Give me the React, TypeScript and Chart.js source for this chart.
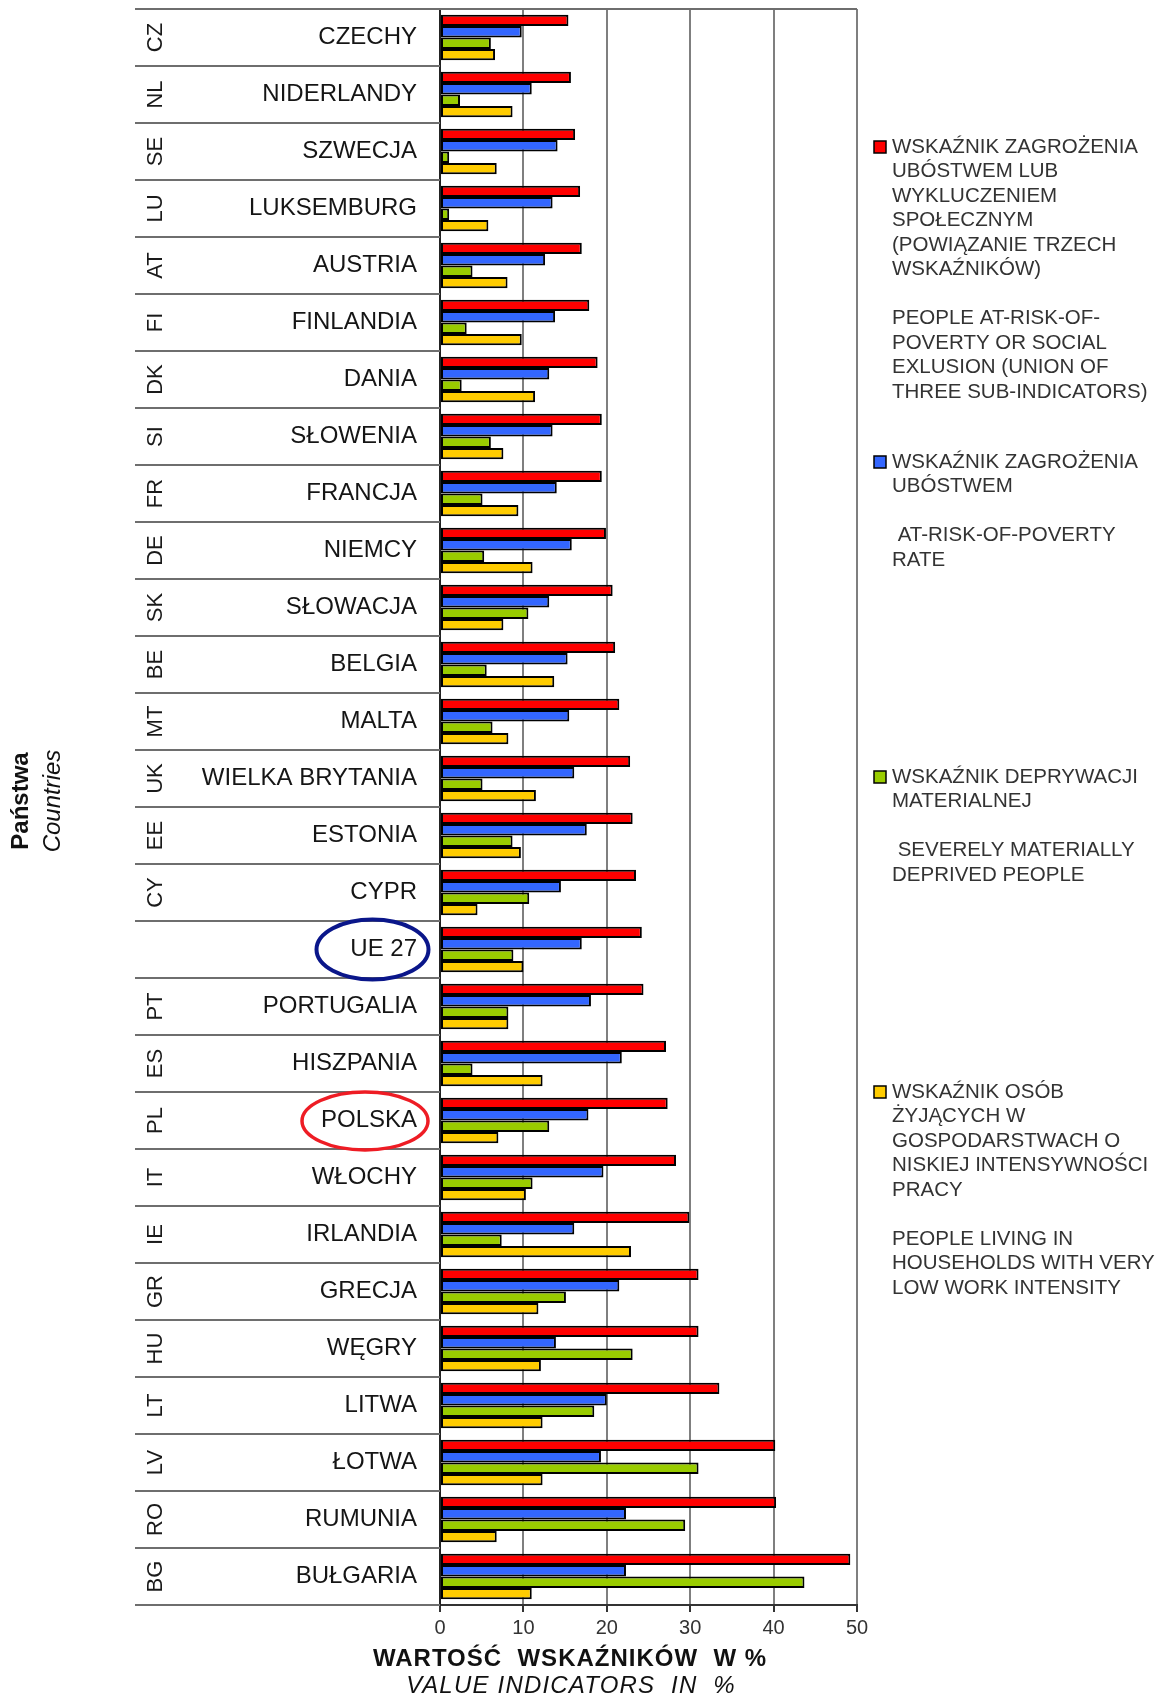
import React, { useEffect, useRef } from "react";
import { Chart, registerables } from "chart.js";

Chart.register(...registerables);

const countries = [
  "CZECHY", "NIDERLANDY", "SZWECJA", "LUKSEMBURG", "AUSTRIA", "FINLANDIA", "DANIA",
  "SŁOWENIA", "FRANCJA", "NIEMCY", "SŁOWACJA", "BELGIA", "MALTA", "WIELKA BRYTANIA",
  "ESTONIA", "CYPR", "UE 27", "PORTUGALIA", "HISZPANIA", "POLSKA", "WŁOCHY",
  "IRLANDIA", "GRECJA", "WĘGRY", "LITWA", "ŁOTWA", "RUMUNIA", "BUŁGARIA",
];
const codes = [
  "CZ", "NL", "SE", "LU", "AT", "FI", "DK", "SI", "FR", "DE", "SK", "BE", "MT", "UK",
  "EE", "CY", "", "PT", "ES", "PL", "IT", "IE", "GR", "HU", "LT", "LV", "RO", "BG",
];
const aropeValues = [
  15.4, 15.7, 16.2, 16.8, 17.0, 17.9, 18.9, 19.4, 19.4, 19.9, 20.7, 21.0, 21.5, 22.8,
  23.1, 23.5, 24.2, 24.4, 27.1, 27.3, 28.3, 29.9, 31.0, 31.0, 33.5, 40.2, 40.3, 49.2,
];
const povertyValues = [
  9.8, 11.0, 14.1, 13.5, 12.6, 13.8, 13.1, 13.5, 14.0, 15.8, 13.1, 15.3, 15.5, 16.1,
  17.6, 14.5, 17.0, 18.1, 21.8, 17.8, 19.6, 16.1, 21.5, 13.9, 20.0, 19.3, 22.3, 22.3,
];
const deprivationValues = [
  6.1, 2.4, 1.1, 1.1, 3.9, 3.2, 2.6, 6.1, 5.1, 5.3, 10.6, 5.6, 6.3, 5.1,
  8.7, 10.7, 8.8, 8.2, 3.9, 13.1, 11.1, 7.4, 15.1, 23.1, 18.5, 31.0, 29.4, 43.7,
];
const lowWorkValues = [
  6.6, 8.7, 6.8, 5.8, 8.1, 9.8, 11.4, 7.6, 9.4, 11.1, 7.6, 13.7, 8.2, 11.5,
  9.7, 4.5, 10.0, 8.2, 12.3, 7.0, 10.3, 22.9, 11.8, 12.1, 12.3, 12.3, 6.8, 11.0,
];
const xTicks = [0, 10, 20, 30, 40, 50];

const legendRed = [
  "WSKAŹNIK ZAGROŻENIA", "UBÓSTWEM LUB", "WYKLUCZENIEM", "SPOŁECZNYM",
  "(POWIĄZANIE TRZECH", "WSKAŹNIKÓW)", "", "PEOPLE AT-RISK-OF-", "POVERTY OR SOCIAL",
  "EXLUSION (UNION OF", "THREE SUB-INDICATORS)",
];
const legendBlue = ["WSKAŹNIK ZAGROŻENIA", "UBÓSTWEM", "", " AT-RISK-OF-POVERTY", "RATE"];
const legendGreen = ["WSKAŹNIK DEPRYWACJI", "MATERIALNEJ", "", " SEVERELY MATERIALLY", "DEPRIVED PEOPLE"];
const legendYellow = [
  "WSKAŹNIK OSÓB", "ŻYJĄCYCH W", "GOSPODARSTWACH O", "NISKIEJ INTENSYWNOŚCI", "PRACY",
  "", "PEOPLE LIVING IN", "HOUSEHOLDS WITH VERY", "LOW WORK INTENSITY",
];

const xTitle = "WARTOŚĆ  WSKAŹNIKÓW  W %";
const xSubtitle = "VALUE INDICATORS  IN  %";
const yTitle = "Państwa";
const ySubtitle = "Countries";

const FONT = '"Liberation Sans", Arial, sans-serif';
const COLORS = ["#FF0000", "#3366FF", "#99CC00", "#FFCC00"];

const decorPlugin = {
  id: "decor",
  afterDraw(chart: any) {
    const { ctx, chartArea } = chart;
    const y = chart.scales.y;
    const n = countries.length;
    const half = (y.getPixelForValue(1) - y.getPixelForValue(0)) / 2;
    const tableLeft = 135;
    ctx.save();

    // table row separators
    ctx.strokeStyle = "#6e6e6e";
    ctx.lineWidth = 2;
    for (let i = 0; i <= n; i++) {
      const yy = i < n ? y.getPixelForValue(i) - half : y.getPixelForValue(n - 1) + half;
      ctx.beginPath();
      ctx.moveTo(tableLeft, yy);
      ctx.lineTo(i === 0 ? chartArea.right : chartArea.left, yy);
      ctx.stroke();
    }

    // country codes (rotated)
    ctx.fillStyle = "#1a1a1a";
    ctx.font = `22px ${FONT}`;
    ctx.textAlign = "center";
    ctx.textBaseline = "middle";
    for (let i = 0; i < n; i++) {
      if (!codes[i]) continue;
      ctx.save();
      ctx.translate(155, y.getPixelForValue(i));
      ctx.rotate(-Math.PI / 2);
      ctx.fillText(codes[i], 0, 1);
      ctx.restore();
    }

    // ellipses around UE 27 and POLSKA
    const ueY = y.getPixelForValue(countries.indexOf("UE 27"));
    const plY = y.getPixelForValue(countries.indexOf("POLSKA"));
    ctx.lineWidth = 4;
    ctx.strokeStyle = "#0a168a";
    ctx.beginPath();
    ctx.ellipse(372.5, ueY, 56, 30, 0, 0, Math.PI * 2);
    ctx.stroke();
    ctx.lineWidth = 3.5;
    ctx.strokeStyle = "#ee1c24";
    ctx.beginPath();
    ctx.ellipse(365, plY + 0.5, 63, 29, 0, 0, Math.PI * 2);
    ctx.stroke();

    // y titles
    ctx.fillStyle = "#111";
    ctx.save();
    ctx.translate(21, 801);
    ctx.rotate(-Math.PI / 2);
    ctx.font = `bold 24px ${FONT}`;
    ctx.fillText(yTitle, 0, 0);
    ctx.restore();
    ctx.save();
    ctx.translate(53, 801);
    ctx.rotate(-Math.PI / 2);
    ctx.font = `italic 24px ${FONT}`;
    ctx.fillText(ySubtitle, 0, 0);
    ctx.restore();

    // x titles
    ctx.textAlign = "center";
    ctx.font = `bold 24px ${FONT}`;
    (ctx as any).letterSpacing = "1px";
    ctx.fillText(xTitle, 570, 1659);
    ctx.font = `italic 24px ${FONT}`;
    (ctx as any).letterSpacing = "1.2px";
    ctx.fillText(xSubtitle, 571, 1686);
    (ctx as any).letterSpacing = "0px";

    // legend
    const blocks = [legendRed, legendBlue, legendGreen, legendYellow];
    const lineH = 24.5;
    ctx.textAlign = "left";
    ctx.font = `20.5px ${FONT}`;
    blocks.forEach((lines, bi) => {
      const y0 = 147 + bi * 315;
      ctx.fillStyle = COLORS[bi];
      ctx.fillRect(874, y0 - 6, 12, 12);
      ctx.strokeStyle = "#000";
      ctx.lineWidth = 1.5;
      ctx.strokeRect(874, y0 - 6, 12, 12);
      ctx.fillStyle = "#333";
      lines.forEach((line, li) => {
        if (line) ctx.fillText(line, 892, y0 + li * lineH);
      });
    });

    ctx.restore();
  },
};

export default function App() {
  const canvasRef = useRef<HTMLCanvasElement | null>(null);

  useEffect(() => {
    if (!canvasRef.current) return;
    const mk = (label: string, data: number[], color: string) => ({
      label,
      data,
      backgroundColor: color,
      borderColor: "#000",
      borderWidth: 2,
      borderSkipped: false,
      categoryPercentage: 0.8,
      barPercentage: 1.0,
    });
    const chart = new Chart(canvasRef.current, {
      type: "bar",
      data: {
        labels: countries,
        datasets: [
          mk(legendRed.slice(0, 6).join(" "), aropeValues, COLORS[0]),
          mk(legendBlue.slice(0, 2).join(" "), povertyValues, COLORS[1]),
          mk(legendGreen.slice(0, 2).join(" "), deprivationValues, COLORS[2]),
          mk(legendYellow.slice(0, 5).join(" "), lowWorkValues, COLORS[3]),
        ],
      },
      options: {
        indexAxis: "y",
        animation: false,
        responsive: false,
        devicePixelRatio: 1,
        layout: { autoPadding: false, padding: { left: 0, top: 9, right: 301, bottom: 52 } },
        plugins: { legend: { display: false }, tooltip: { enabled: false } },
        scales: {
          x: {
            type: "linear",
            min: 0,
            max: 50,
            afterBuildTicks: (scale: any) => {
              scale.ticks = xTicks.map((v) => ({ value: v }));
            },
            afterFit: (scale: any) => {
              scale.height = 40;
              scale.paddingLeft = 0;
              scale.paddingRight = 0;
            },
            ticks: {
              font: { family: FONT, size: 20 },
              color: "#333",
              padding: 4,
            },
            grid: {
              color: (c: any) => (c.tick && c.tick.value === 0 ? "rgba(0,0,0,0)" : "#7f7f7f"),
              lineWidth: 2,
              tickColor: "#333",
              tickLength: 7,
            },
            border: { display: true, color: "#333", width: 2 },
          },
          y: {
            type: "category",
            afterFit: (scale: any) => {
              scale.width = 440;
              scale.paddingTop = 0;
              scale.paddingBottom = 0;
            },
            ticks: {
              font: { family: FONT, size: 24 },
              color: "#151515",
              padding: 23,
              autoSkip: false,
            },
            grid: { display: false, drawTicks: false },
            border: { display: true, color: "#222", width: 2 },
          },
        },
      } as any,
      plugins: [decorPlugin],
    });
    return () => chart.destroy();
  }, []);

  return (
    <div style={{ position: "absolute", left: 0, top: 0, width: 1158, height: 1697, background: "#fff" }}>
      <canvas ref={canvasRef} width={1158} height={1697} style={{ display: "block" }} />
    </div>
  );
}
